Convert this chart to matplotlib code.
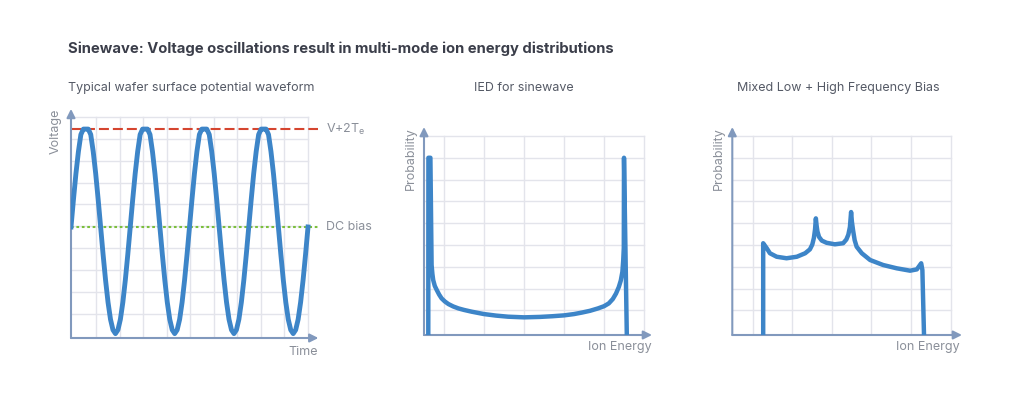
import numpy as np
import matplotlib
matplotlib.use("Agg")
import matplotlib.pyplot as plt

plt.rcParams["font.family"] = ["Inter", "DejaVu Sans"]
plt.rcParams["mathtext.fontset"] = "custom"
plt.rcParams["mathtext.rm"] = "Inter"

# --- data ---
# one cycle of the wafer potential (24 samples per period), clipped at V+2Te
cycle_v = [5.07, 6.33, 7.51, 8.51, 9.29, 9.54, 9.54, 9.54, 9.29, 8.51, 7.51, 6.33,
           5.07, 3.81, 2.64, 1.63, 0.85, 0.37, 0.20, 0.37, 0.85, 1.63, 2.64, 3.81]
n_cycles = 4
period = 2.515
v_top = 9.54      # V+2Te
dc_bias = 5.07

# IED for a sinewave
ied_x = [0.107, 0.11, 0.16, 0.19, 0.21, 0.23, 0.27, 0.32, 0.38, 0.44, 0.52, 0.61,
         0.73, 0.86, 1.0, 1.19, 1.5, 1.8, 2.1, 2.5, 2.9, 3.2, 3.5, 3.75, 3.95,
         4.15, 4.35, 4.5, 4.62, 4.72, 4.8, 4.87, 4.92, 4.96, 4.98, 4.995, 5.0, 5.07]
ied_y = [0.0, 8.13, 8.13, 3.21, 2.8, 2.52, 2.25, 2.06, 1.85, 1.68, 1.54, 1.42,
         1.31, 1.22, 1.15, 1.07, 0.96, 0.89, 0.84, 0.81, 0.83, 0.86, 0.9, 0.96, 1.03,
         1.11, 1.22, 1.32, 1.45, 1.65, 1.9, 2.2, 2.5, 2.9, 3.4, 4.0, 8.13, 0.0]

# mixed low + high frequency bias
mix_x = [0.78, 0.78, 0.87, 0.95, 1.12, 1.37, 1.63, 1.84, 1.96, 2.02, 2.06, 2.09,
         2.11, 2.13, 2.15, 2.19, 2.26, 2.38, 2.59, 2.8, 2.88, 2.93, 2.97, 3.0,
         3.02, 3.05, 3.09, 3.14, 3.27, 3.48, 3.81, 4.15, 4.49, 4.66, 4.77, 4.8, 4.84]
mix_y = [0.0, 4.21, 3.98, 3.75, 3.59, 3.52, 3.59, 3.75, 3.93, 4.15, 4.45, 4.85,
         5.35, 5.0, 4.75, 4.5, 4.33, 4.23, 4.16, 4.21, 4.38, 4.6, 4.95, 5.64,
         5.2, 4.8, 4.35, 4.05, 3.75, 3.44, 3.21, 3.06, 2.95, 3.01, 3.29, 2.98, 0.08]

BLUE = "#3d85c8"
AXIS = "#8199bd"
GRID = "#e3e4eb"
LABEL = "#8a8f99"
SUB = "#555a66"

W, H = 1024, 397
fig = plt.figure(figsize=(W / 100, H / 100), dpi=100)


def panel(x0, y0, ux, uy, xmax, ymax, gx, gy, gx_end, gy_end):
    ax = fig.add_axes([x0 / W, (H - y0) / H, xmax * ux / W, ymax * uy / H])
    ax.set_xlim(0, xmax)
    ax.set_ylim(0, ymax)
    ax.axis("off")
    for g in gx:
        ax.plot([g, g], [0, gy_end], color=GRID, lw=1.0, zorder=1)
    for g in gy:
        ax.plot([0, gx_end], [g, g], color=GRID, lw=1.0, zorder=1)
    arrow = dict(arrowstyle="-|>,head_length=0.5,head_width=0.25", color=AXIS, lw=1.5,
                 shrinkA=0, shrinkB=0, mutation_scale=10)
    ax.annotate("", xy=(xmax, 0), xytext=(0, 0), arrowprops=arrow, zorder=3,
                annotation_clip=False)
    ax.annotate("", xy=(0, ymax), xytext=(0, 0), arrowprops=arrow, zorder=3,
                annotation_clip=False)
    return ax


# panel 1: waveform
ax1 = panel(71, 338, 23.56, 21.9, 10.5, 10.46,
            1.06 + np.arange(10), 1.096 + np.arange(10), 10.06, 10.1)
wave_v = cycle_v * n_cycles + [cycle_v[0]]
wave_t = np.arange(len(wave_v)) * period / len(cycle_v)
ax1.plot([0, 10.48], [v_top, v_top], color="#d5452f", lw=1.5, dashes=(4.8, 1.9), zorder=2)
ax1.plot([0, 10.48], [dc_bias, dc_bias], color="#7cbf3d", lw=1.5, dashes=(1.3, 1.3), zorder=2)
ax1.plot(wave_t, wave_v, color=BLUE, lw=3.5, zorder=4, solid_joinstyle="round")

# panel 2: IED sinewave
ax2 = panel(424, 335, 40, 21.8, 5.7, 9.54,
            0.5 + np.arange(6), 1.13 + np.arange(9), 5.5, 9.13)
ax2.plot(ied_x, ied_y, color=BLUE, lw=3.2, zorder=4, solid_joinstyle="round")

# panel 3: mixed bias
ax3 = panel(732.3, 335, 39.6, 21.8, 5.8, 9.54,
            0.515 + np.arange(6), 1.13 + np.arange(9), 5.515, 9.13)
ax3.plot(mix_x, mix_y, color=BLUE, lw=3.2, zorder=4, solid_joinstyle="round")


def txt(x, y, s, **kw):
    fig.text(x / W, 1 - y / H, s, **kw)


txt(68, 49, "Sinewave: Voltage oscillations result in multi-mode ion energy distributions",
    fontsize=10.65, fontweight="bold", color="#3b3e4a", va="center", ha="left")
txt(68, 88, "Typical wafer surface potential waveform", fontsize=9.0, color=SUB,
    va="center", ha="left")
txt(524, 88, "IED for sinewave", fontsize=9.0, color=SUB, va="center", ha="center")
txt(838, 88, "Mixed Low + High Frequency Bias", fontsize=9.0, color=SUB,
    va="center", ha="center")

lab = dict(fontsize=9.0, color=LABEL)
txt(56, 109, "Voltage", rotation=90, ha="center", va="top", **lab)
txt(318, 352, "Time", ha="right", va="center", **lab)
txt(326, 129, r"V+2T$_\mathrm{e}$", ha="left", va="center", **lab)
txt(326, 227, "DC bias", ha="left", va="center", **lab)
txt(411, 127, "Probability", rotation=90, ha="center", va="top", **lab)
txt(652, 347, "Ion Energy", ha="right", va="center", **lab)
txt(719, 127, "Probability", rotation=90, ha="center", va="top", **lab)
txt(960, 347, "Ion Energy", ha="right", va="center", **lab)

fig.savefig("out.png", dpi=100, facecolor="white")
